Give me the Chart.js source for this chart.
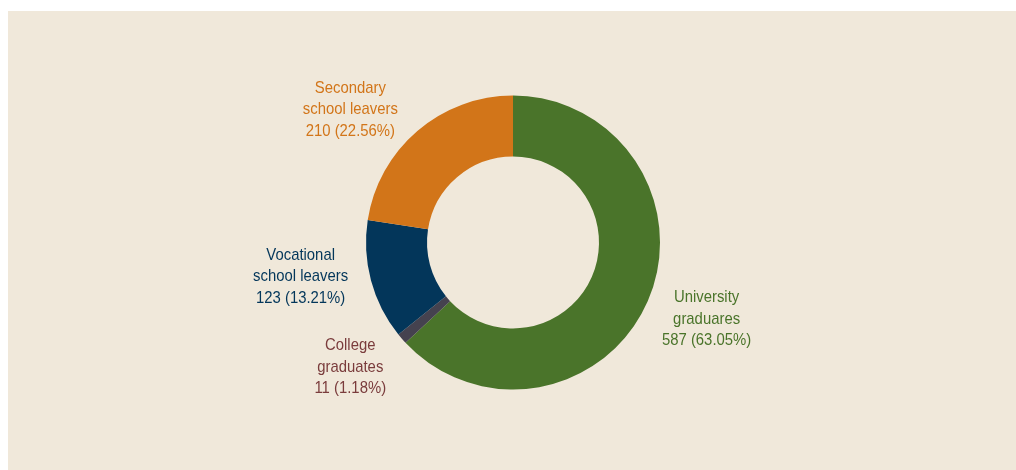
<!DOCTYPE html>
<html>
<head>
<meta charset="utf-8">
<script src="https://cdn.jsdelivr.net/npm/chart.js@4"></script>
<style>
  html, body { margin: 0; padding: 0; background: #ffffff; }
  #wrap { position: absolute; left: 0; top: 0; width: 1016px; height: 470px; }
</style>
</head>
<body>
<div id="wrap"><canvas id="c" width="1016" height="470"></canvas></div>
<script>
// ---- data ----
const categories = ["University graduares", "College graduates", "Vocational school leavers", "Secondary school leavers"];
const labelLines = [["University", "graduares"], ["College", "graduates"], ["Vocational", "school leavers"], ["Secondary", "school leavers"]];
const values = [587, 11, 123, 210];

// ---- styles ----
const sliceColors = ["#4a742a", "#45424f", "#03365a", "#d27519"];
const textColors = ["#4a742a", "#7a3c3c", "#03365a", "#d27519"];
const panelColor = "#f0e8da";
// label nudges (px) relative to the radial anchor of each slice
const labelNudge = [[1, -7], [-4, -13], [-9.5, -20], [-26, 26.5]];

const total = values.reduce((a, b) => a + b, 0);

const panelPlugin = {
  id: 'panel',
  beforeDraw(chart) {
    const ctx = chart.ctx;
    ctx.save();
    ctx.fillStyle = panelColor;
    ctx.fillRect(8, 11, chart.width - 8, chart.height - 11);
    ctx.restore();
  }
};

const labelPlugin = {
  id: 'outerLabels',
  afterDatasetsDraw(chart) {
    const ctx = chart.ctx;
    const meta = chart.getDatasetMeta(0);
    ctx.save();
    ctx.font = '17px "Liberation Sans", Arial, sans-serif';
    ctx.textAlign = 'center';
    ctx.textBaseline = 'middle';
    const lineH = 21.5;
    const sx = 0.875;
    meta.data.forEach((arc, i) => {
      const p = arc.getProps(['x', 'y', 'startAngle', 'endAngle', 'outerRadius'], true);
      const mid = (p.startAngle + p.endAngle) / 2;
      const r = p.outerRadius + 63;
      const cx = p.x + Math.cos(mid) * r + labelNudge[i][0];
      const cy = p.y + Math.sin(mid) * r + labelNudge[i][1];
      const pct = (values[i] / total * 100).toFixed(2);
      const lines = labelLines[i].concat([values[i] + " (" + pct + "%)"]);
      ctx.fillStyle = textColors[i];
      const top = cy - (lines.length - 1) * lineH / 2;
      lines.forEach((t, k) => {
        ctx.save();
        ctx.translate(cx, top + k * lineH);
        ctx.scale(sx, 1);
        ctx.fillText(t, 0, 0);
        ctx.restore();
      });
    });
    ctx.restore();
  }
};

new Chart(document.getElementById('c'), {
  type: 'doughnut',
  data: {
    labels: categories,
    datasets: [{
      data: values,
      backgroundColor: sliceColors,
      borderWidth: 0,
      hoverOffset: 0
    }]
  },
  options: {
    responsive: false,
    animation: false,
    cutout: '58.5%',
    layout: { padding: { top: 95.5, bottom: 80.5, left: 10, right: 0 } },
    plugins: {
      legend: { display: false },
      tooltip: { enabled: false }
    }
  },
  plugins: [panelPlugin, labelPlugin]
});
</script>
</body>
</html>
